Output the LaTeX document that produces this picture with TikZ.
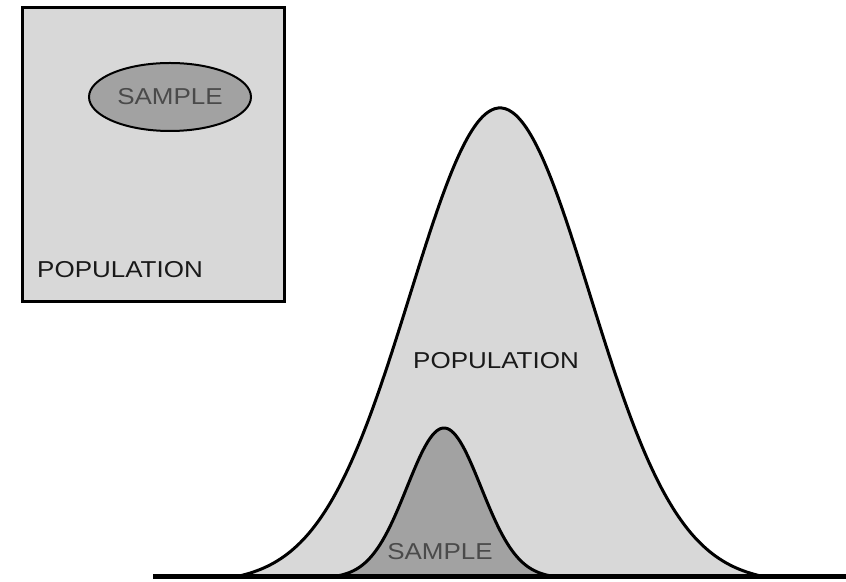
\documentclass[tikz,border=0pt]{standalone}
\usepackage{fontspec}
\setmainfont{Liberation Sans}
\newfontfamily\lblfont[FakeStretch=1.13]{Liberation Sans}
\usetikzlibrary{shapes.geometric}
\definecolor{popfill}{HTML}{D8D8D8}
\definecolor{smpfill}{HTML}{A2A2A2}
\definecolor{smptext}{HTML}{4A4A4A}
\begin{document}
\begin{tikzpicture}[x=1pt,y=1pt,
  curve/.style={line width=3pt,line join=round},
  lbl/.style={inner sep=0pt,font=\lblfont\fontsize{23}{23}\selectfont}]
\useasboundingbox (0,0) rectangle (846,581);
% population box with a sample in it
\draw[line width=3pt,fill=popfill] (22,279) rectangle (284,573);
\node[ellipse,draw,line width=2pt,fill=smpfill,minimum width=162pt,minimum height=68pt,lbl,text=smptext] (boxsmp) at (170,484) {SAMPLE};
\node[lbl,anchor=west,text=black!90] (boxpop) at (37,311) {POPULATION};
% the two curves (cut at 2.9 sigma so they meet the base line)
\filldraw[curve,fill=popfill] plot[domain=-2.9:2.9,samples=150,smooth] ({500+90*\x},{5+468*(exp(-\x*\x/2)-0.0149)/0.9851}) -- cycle;
\filldraw[curve,fill=smpfill] plot[domain=-2.9:2.9,samples=100,smooth] ({444+37*\x},{5+148*(exp(-\x*\x/2)-0.0149)/0.9851}) -- cycle;
\node[lbl,text=black!90] (curvepop) at (496,220) {POPULATION};
\node[lbl,text=smptext] (curvesmp) at (440,29) {SAMPLE};
% base line
\draw[line width=5pt] (153,5) -- (846,5);
\end{tikzpicture}
\end{document}
